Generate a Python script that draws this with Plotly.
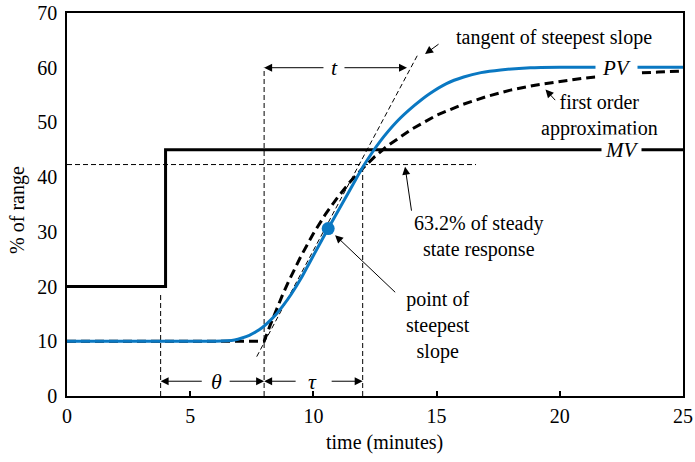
import plotly.graph_objects as go

# ---- data ----
time_mv = [0, 4.0, 4.0, 25]
mv = [20, 20, 45, 45]

time_pv = [0, 6.0, 6.5, 6.8, 7.1, 7.4, 7.8, 8.1, 8.5, 8.8, 9.1, 9.5, 9.8, 10.1, 10.6,
           11.2, 11.6, 12.0, 12.4, 12.7, 13.4, 14.1, 14.7, 15.4, 16.1, 16.8, 17.6,
           18.8, 20.0, 21.5, 25]
pv = [10, 10.0, 10.1, 10.25, 10.6, 11.1, 12.1, 13.2, 15.0, 16.7, 18.6, 21.5, 24.0,
      26.5, 30.6, 35.4, 38.6, 41.8, 44.6, 46.5, 50.2, 53.1, 55.2, 57.1, 58.3, 59.1,
      59.6, 60.0, 60.1, 60.1, 60.1]

time_fo = [0, 8, 8.25, 8.5, 8.75, 9, 9.5, 10, 10.5, 11, 11.5, 12, 12.5, 13, 13.5, 14,
           15, 16, 17, 18, 19, 20, 21, 22, 23, 24, 25]
first_order = [10, 10, 13.0, 15.9, 18.5, 21.0, 25.6, 29.7, 33.3, 36.4, 39.2, 41.6,
               43.8, 45.7, 47.3, 48.8, 51.3, 53.2, 54.7, 55.9, 56.8, 57.5, 58.1, 58.6,
               59.0, 59.2, 59.4]

steepest_t = [10.6]
steepest_y = [30.6]

tangent_t = [7.7, 14.25]
tangent_y = [7.2, 62.5]

level_632 = 42.3
dead_start = 3.8
dead_end = 8.0
tau_end = 12.0
t_end = 13.8
arrow_y_low = 2.7
arrow_y_t = 60

x_ticks = [0, 5, 10, 15, 20, 25]
y_ticks = [0, 10, 20, 30, 40, 50, 60, 70]

FONT = "Liberation Serif"
BLUE = "#0A78C2"

fig = go.Figure()

thin = dict(color="black", width=1, dash="5px,3px")

# thin dashed reference lines
fig.add_trace(go.Scatter(x=[0, 16.6], y=[level_632, level_632], mode="lines", line=thin, hoverinfo="skip"))
fig.add_trace(go.Scatter(x=[dead_start, dead_start], y=[0, 19], mode="lines", line=thin, hoverinfo="skip"))
fig.add_trace(go.Scatter(x=[dead_end, dead_end], y=[0, 60], mode="lines", line=thin, hoverinfo="skip"))
fig.add_trace(go.Scatter(x=[tau_end, tau_end], y=[0, level_632], mode="lines", line=thin, hoverinfo="skip"))
fig.add_trace(go.Scatter(x=tangent_t, y=tangent_y, mode="lines", line=thin, hoverinfo="skip"))

# MV
fig.add_trace(go.Scatter(x=time_mv, y=mv, mode="lines", line=dict(color="black", width=3)))
# first order approximation
fig.add_trace(go.Scatter(x=time_fo, y=first_order, mode="lines",
                         line=dict(color="black", width=3, dash="9px,5px")))
# PV
fig.add_trace(go.Scatter(x=time_pv, y=pv, mode="lines", line_shape="spline",
                         line=dict(color=BLUE, width=3, smoothing=0.6)))
fig.add_trace(go.Scatter(x=steepest_t, y=steepest_y, mode="markers",
                         marker=dict(color=BLUE, size=13)))

ann = []

def arrow(xh, yh, xt, yt):
    ann.append(dict(x=xh, y=yh, ax=xt, ay=yt, xref="x", yref="y", axref="x", ayref="y",
                    text="", showarrow=True, arrowhead=2, arrowsize=1.6, arrowwidth=1,
                    arrowcolor="black", standoff=0, startstandoff=0))

def label(x, y, text, size=20, bg=None, pad=1, xref="x", yref="y", angle=0):
    d = dict(x=x, y=y, xref=xref, yref=yref, text=text, showarrow=False, textangle=angle,
             xanchor="center", yanchor="middle",
             font=dict(family=FONT, size=size, color="black"), borderpad=pad)
    if bg:
        d["bgcolor"] = bg
    ann.append(d)

# theta / tau / t double arrows (gaps around the symbols)
arrow(dead_start, arrow_y_low, 5.53, arrow_y_low)
arrow(dead_end, arrow_y_low, 6.54, arrow_y_low)
arrow(dead_end, arrow_y_low, 9.34, arrow_y_low)
arrow(tau_end, arrow_y_low, 10.68, arrow_y_low)
arrow(dead_end, arrow_y_t, 10.47, arrow_y_t)
arrow(t_end, arrow_y_t, 11.2, arrow_y_t)
label(6.05, arrow_y_low, "<i>θ</i>", size=22)
label(9.97, arrow_y_low, "<i>τ</i>", size=22)
label(10.84, arrow_y_t, "<i>t</i>", size=22)

# callouts
arrow(14.53, 62.5, 15.14, 64.5)
label(19.76, 65.6, "tangent of steepest slope")
arrow(19.42, 56.0, 19.87, 53.8)
label(21.63, 51.2, "first order<br>approximation")
arrow(13.72, 41.9, 13.99, 33.6)
label(16.68, 29.1, "63.2% of steady<br>state response")
arrow(10.88, 29.4, 13.38, 18.7)
label(15.06, 12.9, "point of<br>steepest<br>slope")

# series labels
label(22.3, 59.9, "<i>PV</i>", size=21, bg="white", pad=6)
label(22.5, 45.0, "<i>MV</i>", size=21, bg="white", pad=3)

# axis titles
label(-0.0795, 0.486, "% of range", xref="paper", yref="paper", angle=-90)
label(0.516, -0.1227, "time (minutes)", xref="paper", yref="paper")

fig.update_layout(
    width=695, height=462,
    margin=dict(l=67, r=12, t=13, b=66),
    paper_bgcolor="white", plot_bgcolor="white",
    showlegend=False,
    font=dict(family=FONT, size=20, color="black"),
    annotations=ann,
    xaxis=dict(range=[0, 25], tickvals=x_ticks, ticks="inside", ticklen=5, tickwidth=1.5,
               tickcolor="black", showline=True, linecolor="black", linewidth=1.5,
               mirror=True, showgrid=False, zeroline=False, automargin=False,
               tickfont=dict(family=FONT, size=20), ticklabelstandoff=1),
    yaxis=dict(range=[0, 70], tickvals=y_ticks, ticks="", showline=True, linecolor="black",
               linewidth=1.5, mirror=True, showgrid=False, zeroline=False, automargin=False,
               tickfont=dict(family=FONT, size=20), ticklabelstandoff=4),
)

fig.write_html("out.html")
